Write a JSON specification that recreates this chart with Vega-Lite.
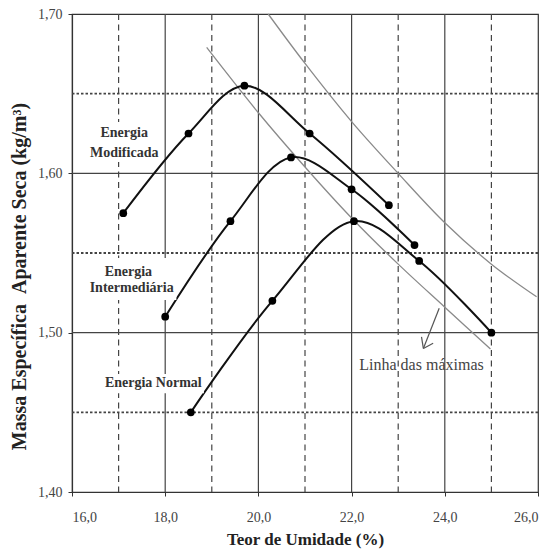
{
  "$schema": "https://vega.github.io/schema/vega-lite/v6.json",
  "autosize": "none",
  "width": 466,
  "height": 478,
  "padding": {"left": 72, "top": 14, "right": 14, "bottom": 61},
  "background": "white",
  "config": {
    "view": {"stroke": "#333", "strokeWidth": 1.2},
    "axis": {
      "labelFont": "Liberation Serif",
      "labelFontSize": 14,
      "labelColor": "#444",
      "titleFont": "Liberation Serif",
      "titleFontWeight": "bold",
      "titleFontSize": 17,
      "titleColor": "#222",
      "domainColor": "#333",
      "domainWidth": 1.2,
      "tickColor": "#333",
      "tickSize": 4,
      "grid": false
    }
  },
  "datasets": {
    "curves": [
      {"serie": "Modificada", "x": 17.1, "y": 1.575},
      {"serie": "Modificada", "x": 18.5, "y": 1.625},
      {"serie": "Modificada", "x": 19.7, "y": 1.655},
      {"serie": "Modificada", "x": 21.1, "y": 1.625},
      {"serie": "Modificada", "x": 22.8, "y": 1.58},
      {"serie": "Intermediária", "x": 18.0, "y": 1.51},
      {"serie": "Intermediária", "x": 19.4, "y": 1.57},
      {"serie": "Intermediária", "x": 20.7, "y": 1.61},
      {"serie": "Intermediária", "x": 22.0, "y": 1.59},
      {"serie": "Intermediária", "x": 23.35, "y": 1.555},
      {"serie": "Normal", "x": 18.55, "y": 1.45},
      {"serie": "Normal", "x": 20.3, "y": 1.52},
      {"serie": "Normal", "x": 22.05, "y": 1.57},
      {"serie": "Normal", "x": 23.45, "y": 1.545},
      {"serie": "Normal", "x": 25.0, "y": 1.50}
    ],
    "maximas": [
      {"linha": "A", "x": 18.89, "y": 1.679},
      {"linha": "A", "x": 20.0, "y": 1.638},
      {"linha": "A", "x": 21.0, "y": 1.604},
      {"linha": "A", "x": 22.0, "y": 1.572},
      {"linha": "A", "x": 23.0, "y": 1.543},
      {"linha": "A", "x": 24.0, "y": 1.516},
      {"linha": "A", "x": 24.98, "y": 1.4897},
      {"linha": "B", "x": 20.21, "y": 1.70},
      {"linha": "B", "x": 21.0, "y": 1.669},
      {"linha": "B", "x": 22.0, "y": 1.6325},
      {"linha": "B", "x": 23.0, "y": 1.60},
      {"linha": "B", "x": 24.0, "y": 1.569},
      {"linha": "B", "x": 25.0, "y": 1.543},
      {"linha": "B", "x": 25.97, "y": 1.5225}
    ],
    "vsolid": [{"v": 18}, {"v": 20}, {"v": 22}, {"v": 24}],
    "vdash": [{"v": 17}, {"v": 19}, {"v": 21}, {"v": 23}, {"v": 25}],
    "hsolid": [{"v": 1.5}, {"v": 1.6}],
    "hdot": [{"v": 1.45}, {"v": 1.55}, {"v": 1.65}],
    "boxes": [
      {"x": 16.39, "x2": 17.89, "y": 1.6071, "y2": 1.6322},
      {"x": 16.34, "x2": 18.24, "y": 1.5205, "y2": 1.5468},
      {"x": 16.6, "x2": 18.83, "y": 1.462, "y2": 1.474}
    ],
    "labels": [
      {"t": "Energia", "x": 17.12, "y": 1.6253},
      {"t": "Modificada", "x": 17.12, "y": 1.6127},
      {"t": "Energia", "x": 17.21, "y": 1.5383},
      {"t": "Intermediária", "x": 17.28, "y": 1.5278},
      {"t": "Energia Normal", "x": 17.745, "y": 1.4682}
    ],
    "arrow": [
      {"x": 23.88, "y": 1.5153, "x2": 23.54, "y2": 1.4901},
      {"x": 23.50, "y": 1.4974, "x2": 23.54, "y2": 1.4901},
      {"x": 23.75, "y": 1.4933, "x2": 23.54, "y2": 1.4901}
    ],
    "note": [{"t": "Linha das máximas", "x": 23.5, "y": 1.4797}]
  },
  "layer": [
    {
      "data": {"name": "vsolid"},
      "mark": {"type": "rule", "color": "#444", "strokeWidth": 1.2},
      "encoding": {
        "x": {
          "field": "v", "type": "quantitative",
          "scale": {"domain": [16, 26], "nice": false, "zero": false},
          "axis": {
            "title": "Teor de Umidade (%)",
            "values": [16, 18, 20, 22, 24, 26],
            "labelExpr": "replace(format(datum.value, '.1f'), '.', ',')",
            "labelPadding": 14,
            "titlePadding": 7
          }
        }
      }
    },
    {
      "data": {"name": "vdash"},
      "mark": {"type": "rule", "color": "#444", "strokeWidth": 1.2, "strokeDash": [6, 4.5]},
      "encoding": {"x": {"field": "v", "type": "quantitative"}}
    },
    {
      "data": {"name": "hsolid"},
      "mark": {"type": "rule", "color": "#444", "strokeWidth": 1.2},
      "encoding": {
        "y": {
          "field": "v", "type": "quantitative",
          "scale": {"domain": [1.4, 1.7], "nice": false, "zero": false},
          "axis": {
            "title": "Massa Específica \u00a0Aparente Seca (kg/m³)",
            "titleFontSize": 20,
            "titleY": 262,
            "values": [1.4, 1.5, 1.6, 1.7],
            "labelExpr": "replace(format(datum.value, '.2f'), '.', ',')",
            "labelPadding": 6,
            "titlePadding": 8
          }
        }
      }
    },
    {
      "data": {"name": "hdot"},
      "mark": {"type": "rule", "color": "#444", "strokeWidth": 1.8, "strokeDash": [2.5, 2]},
      "encoding": {"y": {"field": "v", "type": "quantitative"}}
    },
    {
      "data": {"name": "maximas"},
      "mark": {"type": "line", "color": "#8a8a8a", "strokeWidth": 1.3, "interpolate": "catmull-rom"},
      "encoding": {
        "x": {"field": "x", "type": "quantitative"},
        "y": {"field": "y", "type": "quantitative"},
        "detail": {"field": "linha"}
      }
    },
    {
      "data": {"name": "curves"},
      "mark": {"type": "line", "color": "#111", "strokeWidth": 2, "interpolate": "catmull-rom"},
      "encoding": {
        "x": {"field": "x", "type": "quantitative"},
        "y": {"field": "y", "type": "quantitative"},
        "detail": {"field": "serie"}
      }
    },
    {
      "data": {"name": "boxes"},
      "mark": {"type": "rect", "color": "white"},
      "encoding": {
        "x": {"field": "x", "type": "quantitative"},
        "x2": {"field": "x2"},
        "y": {"field": "y", "type": "quantitative"},
        "y2": {"field": "y2"}
      }
    },
    {
      "data": {"name": "curves"},
      "mark": {"type": "point", "filled": true, "color": "#000", "size": 60, "opacity": 1},
      "encoding": {
        "x": {"field": "x", "type": "quantitative"},
        "y": {"field": "y", "type": "quantitative"}
      }
    },
    {
      "data": {"name": "labels"},
      "mark": {"type": "text", "font": "Liberation Serif", "fontWeight": "bold", "fontSize": 14, "color": "#333", "align": "center", "baseline": "middle"},
      "encoding": {
        "x": {"field": "x", "type": "quantitative"},
        "y": {"field": "y", "type": "quantitative"},
        "text": {"field": "t"}
      }
    },
    {
      "data": {"name": "arrow"},
      "mark": {"type": "rule", "color": "#555", "strokeWidth": 1.2},
      "encoding": {
        "x": {"field": "x", "type": "quantitative"},
        "x2": {"field": "x2"},
        "y": {"field": "y", "type": "quantitative"},
        "y2": {"field": "y2"}
      }
    },
    {
      "data": {"name": "note"},
      "mark": {"type": "text", "font": "Liberation Serif", "fontSize": 16, "color": "#444", "align": "center", "baseline": "middle"},
      "encoding": {
        "x": {"field": "x", "type": "quantitative"},
        "y": {"field": "y", "type": "quantitative"},
        "text": {"field": "t"}
      }
    }
  ]
}
